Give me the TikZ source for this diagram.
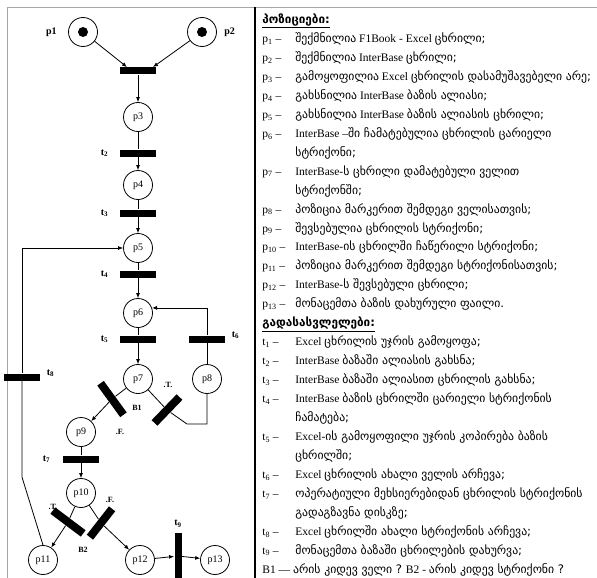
\documentclass[tikz,border=0pt]{standalone}
\usepackage{fontspec}
\setmainfont{Liberation Serif}
\newfontfamily\geo[Scale=1.02]{DejaVu Sans}
\usetikzlibrary{arrows.meta,calc,positioning}

\newcommand{\ka}[1]{{\geo #1}}
\newcommand{\legkey}[1]{\makebox[33pt][l]{#1 –}}

\begin{document}
\begin{tikzpicture}[x=1pt, y=-1pt, line width=0.8pt, >={Latex[length=5pt,width=4pt]},
  place/.style={circle, draw, minimum size=29pt, inner sep=0pt, font=\fontsize{10}{10}\selectfont},
  trans/.style={fill, minimum width=36pt, minimum height=7pt, inner sep=0pt},
  token/.style={circle, fill, minimum size=10pt, inner sep=0pt},
  lbl/.style={font=\bfseries, inner sep=0pt},
  cond/.style={font=\bfseries\footnotesize, inner sep=0pt},
  leg/.style={anchor=base west, inner sep=0pt, font=\fontsize{11.5}{13}\selectfont}]

\useasboundingbox (0,0) rectangle (597,578);

% frame of the table
\draw[gray!70] (7,578) -- (7,7) -- (597,7);
\draw[line width=1.6pt] (255,7) -- (255,578);

% places
\node[place] (p1) at (83,32) {};
\node[token] (k1) at (p1) {};
\node[place] (p2) at (202,32) {};
\node[token] (k2) at (p2) {};
\node[place] (p3) at (138,117) {p3};
\node[place] (p4) at (138,185) {p4};
\node[place] (p5) at (138,248) {p5};
\node[place] (p6) at (138,313) {p6};
\node[place] (p7) at (138,379) {p7};
\node[place] (p8) at (207,379) {p8};
\node[place] (p9) at (81,432) {p9};
\node[place] (p10) at (81,493) {p10};
\node[place] (p11) at (43,560) {p11};
\node[place] (p12) at (140,560) {p12};
\node[place] (p13) at (215,560) {p13};

\node[lbl, left=11pt of p1] (n1) {p1};
\node[lbl, right=7pt of p2] (n2) {p2};

% transitions
\node[trans] (t1) at (138,71) {};
\node[trans] (t2) at (138,153) {};
\node[trans] (t3) at (138,213) {};
\node[trans] (t4) at (138,274) {};
\node[trans] (t5) at (138,339) {};
\node[trans] (t6) at (207,339) {};
\node[trans] (t7) at (81,459) {};
\node[trans] (t8) at (22,377) {};
\node[trans, minimum width=7pt, minimum height=46pt] (t9) at (178,556) {};
\node[trans, minimum width=39pt, minimum height=8pt, rotate=-54] (b1f) at (112,399) {};
\node[trans, minimum width=36pt, minimum height=8pt, rotate=46] (b1t) at (167,410) {};
\node[trans, minimum width=38pt, minimum height=8pt, rotate=-37] (b2t) at (68,522) {};
\node[trans, minimum width=36pt, minimum height=8pt, rotate=52] (b2f) at (101,523) {};

\node[lbl, left=11pt of t2] (m2) {t\textsubscript{2}};
\node[lbl, left=11pt of t3] (m3) {t\textsubscript{3}};
\node[lbl, left=11pt of t4] (m4) {t\textsubscript{4}};
\node[lbl, left=11pt of t5] (m5) {t\textsubscript{5}};
\node[lbl, right=6pt of t6, yshift=4pt] (m6) {t\textsubscript{6}};
\node[lbl, left=12pt of t7] (m7) {t\textsubscript{7}};
\node[lbl, right=6pt of t8, yshift=4pt] (m8) {t\textsubscript{8}};
\node[lbl, above=5pt of t9] (m9) {t\textsubscript{9}};

\node[cond] (c1) at (137,408) {B1};
\node[cond] (c1f) at (120,432) {.F.};
\node[cond] (c1t) at (168,385) {.T.};
\node[cond] (c2) at (83,550) {B2};
\node[cond] (c2t) at (53,507) {.T.};
\node[cond] (c2f) at (110,500) {.F.};

% arcs
\draw[->] (p1) -- ([xshift=-11pt]t1.north);
\draw[->] (p2) -- ([xshift=15pt]t1.north);
\draw[->] (t1) -- (p3);
\draw (p3) -- (t2);
\draw[->] (t2) -- (p4);
\draw (p4) -- (t3);
\draw[->] (t3) -- (p5);
\draw (p5) -- (t4);
\draw[->] (t4) -- (p6);
\draw (p6) -- (t5);
\draw[->] (t5) -- (p7);
\draw (p8) -- (t6);
\draw[->] (t6) |- (p6.20);
\draw (p7) -- (b1f);
\draw[->] (b1f) -- (p9);
\draw (p7) -- (b1t);
\draw (b1t) -- ++(20,14) -| (p8);
\draw (p9) -- (t7);
\draw[->] (t7) -- (p10);
\draw (p10) -- (b2t);
\draw[->] (b2t) -- (p11);
\draw (p10) -- (b2f);
\draw[->] (b2f) -- (p12);
\draw (p11.north) -- ++(-21,-68) -- (t8);
\draw[->] (t8) |- (p5);
\draw[->] (p12) -- (t9);
\draw[->] (t9) -- (p13);

% legend
\node[leg] (h1) at (262,23.5) {\underline{\ka{\bfseries პოზიციები:}}};
\node[leg] (l1) at (262,42.5) {\legkey{p\textsubscript{1}}\ka{შექმნილია} F1Book - Excel \ka{ცხრილი;}};
\node[leg] (l2) at (262,61.4) {\legkey{p\textsubscript{2}}\ka{შექმნილია} InterBase \ka{ცხრილი;}};
\node[leg] (l3) at (262,80.4) {\legkey{p\textsubscript{3}}\ka{გამოყოფილია} Excel \ka{ცხრილის დასამუშავებელი არე;}};
\node[leg] (l4) at (262,99.3) {\legkey{p\textsubscript{4}}\ka{გახსნილია} InterBase \ka{ბაზის ალიასი;}};
\node[leg] (l5) at (262,118.3) {\legkey{p\textsubscript{5}}\ka{გახსნილია} InterBase \ka{ბაზის ალიასის ცხრილი;}};
\node[leg] (l6) at (262,137.2) {\legkey{p\textsubscript{6}}InterBase –\ka{ში ჩამატებულია ცხრილის ცარიელი}};
\node[leg] (l6b) at (295,156.2) {\ka{სტრიქონი;}};
\node[leg] (l7) at (262,175.1) {\legkey{p\textsubscript{7}}InterBase-\ka{ს ცხრილი დამატებული ველით}};
\node[leg] (l7b) at (295,194.1) {\ka{სტრიქონში;}};
\node[leg] (l8) at (262,213.0) {\legkey{p\textsubscript{8}}\ka{პოზიცია მარკერით შემდეგი ველისათვის;}};
\node[leg] (l9) at (262,232.0) {\legkey{p\textsubscript{9}}\ka{შევსებულია ცხრილის სტრიქონი;}};
\node[leg] (l10) at (262,250.9) {\legkey{p\textsubscript{10}}InterBase-\ka{ის ცხრილში ჩაწერილი სტრიქონი;}};
\node[leg] (l11) at (262,269.9) {\legkey{p\textsubscript{11}}\ka{პოზიცია მარკერით შემდეგი სტრიქონისათვის;}};
\node[leg] (l12) at (262,288.8) {\legkey{p\textsubscript{12}}InterBase-\ka{ს შევსებული ცხრილი;}};
\node[leg] (l13) at (262,307.8) {\legkey{p\textsubscript{13}}\ka{მონაცემთა ბაზის დახურული ფაილი.}};
\node[leg] (h2) at (262,326.7) {\underline{\ka{\bfseries გადასასვლელები:}}};
\node[leg] (s1) at (262,345.7) {\legkey{t\textsubscript{1}}Excel \ka{ცხრილის უჯრის გამოყოფა;}};
\node[leg] (s2) at (262,364.6) {\legkey{t\textsubscript{2}}InterBase \ka{ბაზაში ალიასის გახსნა;}};
\node[leg] (s3) at (262,383.6) {\legkey{t\textsubscript{3}}InterBase \ka{ბაზაში ალიასით ცხრილის გახსნა;}};
\node[leg] (s4) at (262,402.5) {\legkey{t\textsubscript{4}}InterBase \ka{ბაზის ცხრილში ცარიელი სტრიქონის}};
\node[leg] (s4b) at (295,421.5) {\ka{ჩამატება;}};
\node[leg] (s5) at (262,440.4) {\legkey{t\textsubscript{5}}Excel-\ka{ის გამოყოფილი უჯრის კოპირება ბაზის}};
\node[leg] (s5b) at (295,459.4) {\ka{ცხრილში;}};
\node[leg] (s6) at (262,478.3) {\legkey{t\textsubscript{6}}Excel \ka{ცხრილის ახალი ველის არჩევა;}};
\node[leg] (s7) at (262,497.3) {\legkey{t\textsubscript{7}}\ka{ოპერატიული მეხსიერებიდან ცხრილის სტრიქონის}};
\node[leg] (s7b) at (295,516.2) {\ka{გადაგზავნა დისკზე;}};
\node[leg] (s8) at (262,535.2) {\legkey{t\textsubscript{8}}Excel \ka{ცხრილში ახალი სტრიქონის არჩევა;}};
\node[leg] (s9) at (262,554.1) {\legkey{t\textsubscript{9}}\ka{მონაცემთა ბაზაში ცხრილების დახურვა;}};
\node[leg] (bq) at (262,573.1) {B1 — \ka{არის კიდევ ველი ?} B2 - \ka{არის კიდევ სტრიქონი ?}};
\end{tikzpicture}
\end{document}
